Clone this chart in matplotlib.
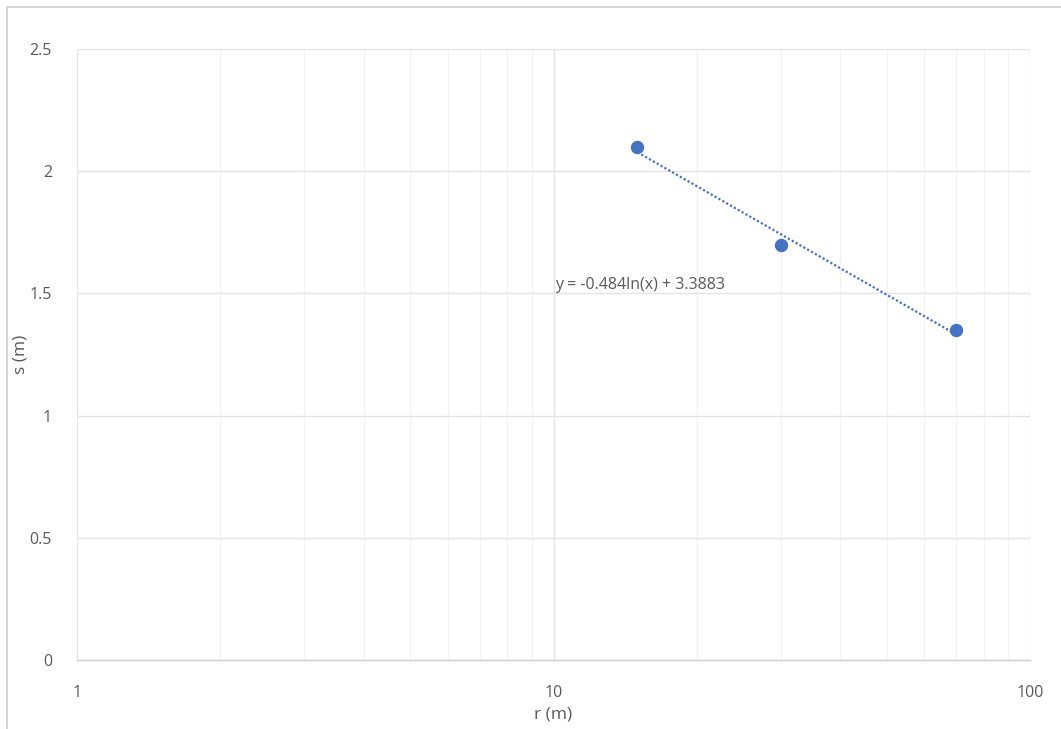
import numpy as np
import matplotlib
matplotlib.use("Agg")
import matplotlib.pyplot as plt
from matplotlib.patches import Rectangle
from matplotlib.ticker import FixedLocator, NullFormatter

r_vals = [15, 30, 70]
s_vals = [2.1, 1.7, 1.35]
fit_a = -0.484
fit_b = 3.3883
fit_label = "y = -0.484ln(x) + 3.3883"
x_ticks = [1, 10, 100]
x_tick_labels = ["1", "10", "100"]
y_ticks = [0, 0.5, 1, 1.5, 2, 2.5]
y_tick_labels = ["0", "0.5", "1", "1.5", "2", "2.5"]

plt.rcParams['font.family'] = ['Open Sans', 'DejaVu Sans']
txt = '#595959'
grid_c = '#e4e4e4'
blue = '#4472C4'

fig = plt.figure(figsize=(10.61, 7.29), dpi=100)
fig.patches.append(Rectangle((7/1061, -0.2), 1.2, 1.2 - 7/729, transform=fig.transFigure,
                             fill=False, edgecolor='#d0d0d0', linewidth=1.2, zorder=0))
ax = fig.add_axes([77/1061, 1 - 660/729, (1030-77)/1061, (660-49)/729])
ax.set_xscale('log')
ax.set_xlim(1, 100)
ax.set_ylim(0, 2.5)

ax.xaxis.set_major_locator(FixedLocator(x_ticks))
ax.set_xticklabels(x_tick_labels)
minor = [m * d for d in (1, 10) for m in range(2, 10)]
ax.xaxis.set_minor_locator(FixedLocator(minor))
ax.xaxis.set_minor_formatter(NullFormatter())
ax.set_yticks(y_ticks)
ax.set_yticklabels(y_tick_labels)

ax.grid(True, which='major', color=grid_c, linewidth=1.0)
ax.grid(True, which='minor', axis='x', color='#f3f3f3', linewidth=0.9)
ax.set_axisbelow(True)
for s in ['top', 'right', 'left']:
    ax.spines[s].set_visible(False)
ax.spines['bottom'].set_color('#d0d0d0')
ax.spines['bottom'].set_linewidth(1.0)
ax.tick_params(which='both', length=0, colors=txt, labelsize=11.5)
ax.tick_params(axis='x', pad=18)
ax.tick_params(axis='y', pad=18)

xr = np.array([min(r_vals), max(r_vals)], dtype=float)
xf = np.geomspace(xr[0], xr[1], 50)
ax.plot(xf, fit_a * np.log(xf) + fit_b, linestyle=(0, (1, 1)), color=blue, linewidth=1.6, zorder=3)
ax.plot(r_vals, s_vals, 'o', color=blue, markersize=8.6, zorder=4)
ax.text(10.05, 1.535, fit_label, color=txt, fontsize=11.5, va='center', ha='left')

ax.set_xlabel('r (m)', color=txt, fontsize=12.5, labelpad=4)
ax.set_ylabel('s (m)', color=txt, fontsize=12.5, labelpad=1)

fig.savefig('out.png', dpi=100)
